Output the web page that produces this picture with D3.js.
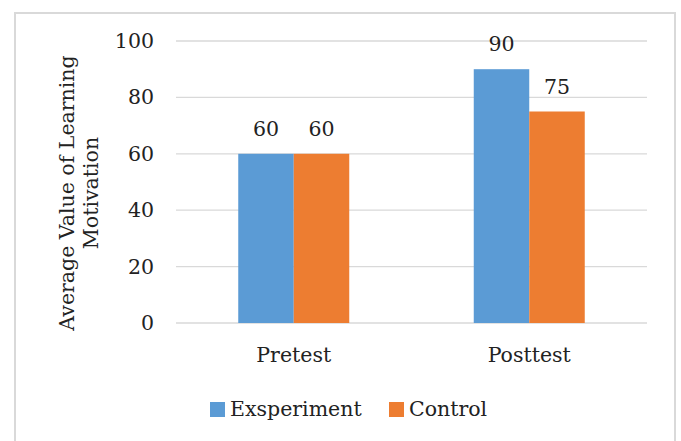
<!DOCTYPE html>
<html>
<head>
<meta charset="utf-8">
<script src="https://cdn.jsdelivr.net/npm/d3@7"></script>
<style>
  body { margin: 0; background: #fff; }
  svg text { font-family: "DejaVu Serif", serif !important; fill: #222; }
</style>
</head>
<body>
<div id="chart"></div>
<script>
// categories and series
const categories = ["Pretest", "Posttest"];
const seriesNames = ["Exsperiment", "Control"];
const experimentValues = [60, 90];
const controlValues = [60, 75];
const yTicks = [0, 20, 40, 60, 80, 100];
const colors = ["#5b9bd5", "#ed7d31"];

const width = 681, height = 441;
const plot = { left: 176, right: 647, top: 41, bottom: 323 };
const fontSize = "20.5px";

const svg = d3.select("#chart").append("svg")
  .attr("width", width).attr("height", height);

// outer frame of the chart
svg.append("rect")
  .attr("x", 15).attr("y", 13)
  .attr("width", 660).attr("height", 440)
  .attr("fill", "none").attr("stroke", "#d9d9d9").attr("stroke-width", 2);

let xScale = d3.scaleBand().domain(categories).range([plot.left, plot.right]);
let yScale = d3.scaleLinear().domain([0, 100]).range([plot.bottom, plot.top]);
const barW = 55.5;

// gridlines
svg.append("g").selectAll("line")
  .data(yTicks)
  .join("line")
  .attr("x1", plot.left).attr("x2", plot.right)
  .attr("y1", d => yScale(d)).attr("y2", d => yScale(d))
  .attr("stroke", "#d9d9d9").attr("stroke-width", 1.3);

// y axis labels
let yAxis = svg.append("g")
  .attr("transform", "translate(" + (plot.left - 22) + ",0)")
  .call(d3.axisLeft(yScale).tickValues(yTicks).tickSize(0).tickPadding(0));
yAxis.select(".domain").remove();
yAxis.attr("font-family", null).attr("font-size", null);
yAxis.selectAll("text").style("font-size", fontSize).attr("fill", "#222");

// x axis labels
let xAxis = svg.append("g")
  .attr("transform", "translate(0," + plot.bottom + ")")
  .call(d3.axisBottom(xScale).tickSize(0).tickPadding(24));
xAxis.select(".domain").remove();
xAxis.attr("font-family", null).attr("font-size", null);
xAxis.selectAll("text").style("font-size", fontSize).attr("fill", "#222");

// bars
const series = [experimentValues, controlValues];
series.forEach((vals, si) => {
  let g = svg.append("g");
  let bx = (c) => xScale(c) + xScale.bandwidth() / 2 + (si - 1) * barW;
  g.selectAll("rect")
    .data(categories)
    .join("rect")
    .attr("x", c => bx(c))
    .attr("width", barW)
    .attr("y", (c, i) => yScale(vals[i]))
    .attr("height", (c, i) => plot.bottom - yScale(vals[i]))
    .attr("fill", colors[si]);
  g.selectAll("text")
    .data(categories)
    .join("text")
    .attr("x", c => bx(c) + barW / 2)
    .attr("y", (c, i) => yScale(vals[i]) - 18)
    .attr("text-anchor", "middle")
    .style("font-size", fontSize)
    .text((c, i) => vals[i]);
});

// y axis title
let title = svg.append("text")
  .attr("transform", "translate(79,193) rotate(-90)")
  .attr("text-anchor", "middle")
  .style("font-size", fontSize);
title.append("tspan").attr("x", 0).attr("dy", "-0.25em").text("Average Value of Learning");
title.append("tspan").attr("x", 0).attr("dy", "1.2em").text("Motivation");

// legend
const legendX = [210, 389];
seriesNames.forEach((name, i) => {
  svg.append("rect")
    .attr("x", legendX[i]).attr("y", 402)
    .attr("width", 15).attr("height", 15)
    .attr("fill", colors[i]);
  svg.append("text")
    .attr("x", legendX[i] + 20).attr("y", 416)
    .style("font-size", fontSize)
    .text(name);
});
</script>
</body>
</html>
